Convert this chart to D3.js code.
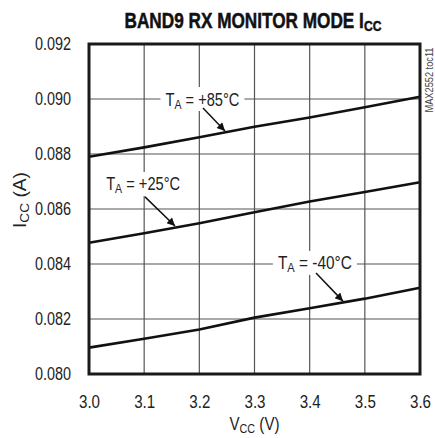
<!DOCTYPE html>
<html>
<head>
<meta charset="utf-8">
<script src="https://cdn.jsdelivr.net/npm/d3@7"></script>
<style>
  html, body { margin: 0; padding: 0; background: #fff; }
  svg { display: block; }
  text { font-family: "Liberation Sans Narrow", "Arial Narrow", "Liberation Sans", Arial, sans-serif; fill: #222; white-space: pre; }
</style>
</head>
<body>
<svg id="chart" width="435" height="438"></svg>
<script>
// ---- data ----
const vcc = [3.0, 3.1, 3.2, 3.3, 3.4, 3.5, 3.6];
const icc85 = [0.0879, 0.08824, 0.08861, 0.08899, 0.08933, 0.0897, 0.09008];
const icc25 = [0.08477, 0.08512, 0.08548, 0.08588, 0.08627, 0.08662, 0.08697];
const iccM40 = [0.08096, 0.08128, 0.08162, 0.08205, 0.08239, 0.08274, 0.08314];
const xTicks = [3.0, 3.1, 3.2, 3.3, 3.4, 3.5, 3.6];
const yTicks = [0.080, 0.082, 0.084, 0.086, 0.088, 0.090, 0.092];
const seriesLabels = ["+85°C", "+25°C", "-40°C"];
// label anchors and arrows, in data units
const labelPos = [[3.2057, 0.0900], [3.0982, 0.08691], [3.4095, 0.08404]];
const arrowFrom = [[3.2066, 0.08967], [3.1015, 0.08644], [3.4115, 0.08367]];
const arrowTo = [[3.2465, 0.08884], [3.1559, 0.08538], [3.4604, 0.08265]];

// ---- layout ----
const svg = d3.select("#chart");
const L = 89, R = 420, T = 44, B = 374;
const x = d3.scaleLinear().domain([3.0, 3.6]).range([L, R]);
const y = d3.scaleLinear().domain([0.080, 0.092]).range([B, T]);

// composite text (main + subscript parts) laid out as separate texts, scaled to a target width
function composite(parent, parts, cx, baseY, targetW, opts = {}) {
  const g = parent.append("g");
  let cur = 0;
  parts.forEach(p => {
    const t = g.append("text").attr("x", cur).attr("y", p.dy || 0)
      .attr("xml:space", "preserve")
      .attr("font-size", p.size).text(p.text.replace(/ /g, "\u00A0"));
    if (opts.bold) t.attr("font-weight", "bold");
    if (opts.fill) t.style("fill", opts.fill);
    if (opts.stroke) t.style("stroke", opts.fill).style("stroke-width", opts.stroke);
    cur += t.node().getComputedTextLength();
  });
  const s = targetW / cur;
  const tr = opts.rotate
    ? `translate(${cx},${baseY}) rotate(-90) scale(${s},1) translate(${-cur / 2},0)`
    : `translate(${cx},${baseY}) scale(${s},1) translate(${-cur / 2},0)`;
  g.attr("transform", tr);
  return g;
}

svg.append("defs").append("marker")
  .attr("id", "ah").attr("viewBox", "0 0 10 10")
  .attr("refX", 10).attr("refY", 5)
  .attr("markerWidth", 11).attr("markerHeight", 8)
  .attr("markerUnits", "userSpaceOnUse")
  .attr("orient", "auto")
  .append("path").attr("d", "M0,0 L10,5 L0,10 Z").attr("fill", "#111");

// grid
const grid = svg.append("g");
grid.selectAll(".vg").data(xTicks.slice(1, -1)).enter().append("line")
  .attr("x1", d => x(d)).attr("x2", d => x(d)).attr("y1", T).attr("y2", B)
  .attr("stroke", "#555").attr("stroke-width", 1.2);
grid.selectAll(".hg").data(yTicks.slice(1, -1)).enter().append("line")
  .attr("y1", d => y(d)).attr("y2", d => y(d)).attr("x1", L).attr("x2", R)
  .attr("stroke", "#555").attr("stroke-width", 1.2);

// axes (labels only)
const xAxis = svg.append("g").attr("transform", `translate(0,${B})`)
  .call(d3.axisBottom(x).tickValues(xTicks).tickFormat(d3.format(".1f")).tickSize(0).tickPadding(22));
const yAxis = svg.append("g").attr("transform", `translate(${L},0)`)
  .call(d3.axisLeft(y).tickValues(yTicks).tickFormat(d3.format(".3f")).tickSize(0).tickPadding(18));
[xAxis, yAxis].forEach(a => {
  a.select(".domain").remove();
  a.selectAll("text").attr("font-size", 17.5).attr("fill", "#222")
    .attr("lengthAdjust", "spacingAndGlyphs")
    .style("font-family", '"Liberation Sans Narrow", "Arial Narrow", "Liberation Sans", sans-serif');
});
xAxis.selectAll("text").attr("textLength", 21);
yAxis.selectAll("text").attr("textLength", 36);

// series
const seriesList = [icc85, icc25, iccM40];
const line = d3.line().x((d, i) => x(vcc[i])).y(d => y(d));
svg.append("g").selectAll("path").data(seriesList).enter().append("path")
  .attr("d", d => line(d)).attr("fill", "none")
  .attr("stroke", "#111").attr("stroke-width", 2.6);

// labels with white boxes
seriesLabels.forEach((lab, i) => {
  const cx = x(labelPos[i][0]), cy = y(labelPos[i][1]);
  const w = 84, h = 24;
  svg.append("rect").attr("x", cx - w / 2).attr("y", cy - h / 2)
    .attr("width", w).attr("height", h).attr("fill", "#fff");
  composite(svg, [
    { text: "T", size: 18 },
    { text: "A", size: 13, dy: 3 },
    { text: " = " + lab, size: 18 }
  ], cx, cy + 6.5, 74);
  svg.append("line")
    .attr("x1", x(arrowFrom[i][0])).attr("y1", y(arrowFrom[i][1]))
    .attr("x2", x(arrowTo[i][0])).attr("y2", y(arrowTo[i][1]))
    .attr("stroke", "#111").attr("stroke-width", 1.5)
    .attr("marker-end", "url(#ah)");
});

// frame
svg.append("rect").attr("x", L).attr("y", T).attr("width", R - L).attr("height", B - T)
  .attr("fill", "none").attr("stroke", "#1a1a1a").attr("stroke-width", 3);

// title
composite(svg, [
  { text: "BAND9 RX MONITOR MODE I", size: 22 },
  { text: "CC", size: 15.5, dy: 3 }
], 253, 28, 257, { bold: true, fill: "#111", stroke: 0.5 });

// x label
composite(svg, [
  { text: "V", size: 17.5 },
  { text: "CC", size: 12.5, dy: 3 },
  { text: " (V)", size: 17.5 }
], 254.5, 430, 50);

// y label
composite(svg, [
  { text: "I", size: 17.5 },
  { text: "CC", size: 12.5, dy: 3 },
  { text: " (A)", size: 17.5 }
], 26, 200, 56, { rotate: true });

// watermark
svg.append("text").attr("transform", "translate(433,80) rotate(-90)")
  .attr("text-anchor", "middle").attr("font-size", 10).style("fill", "#444")
  .attr("textLength", 65).attr("lengthAdjust", "spacingAndGlyphs")
  .text("MAX2552 toc11");
</script>
</body>
</html>
